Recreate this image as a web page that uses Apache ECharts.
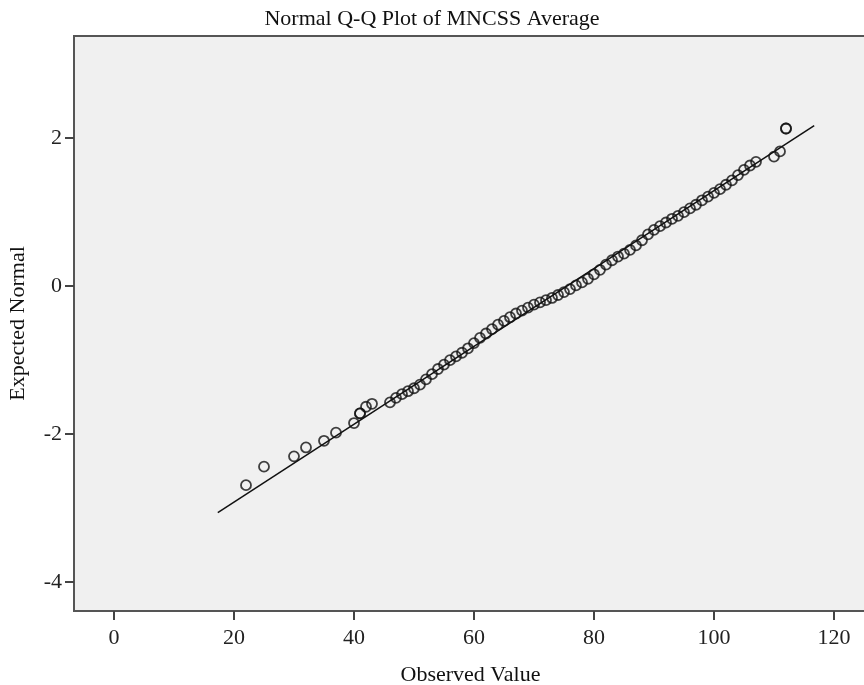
<!DOCTYPE html>
<html>
<head>
<meta charset="utf-8">
<title>Normal Q-Q Plot of MNCSS Average</title>
<script src="https://cdn.jsdelivr.net/npm/echarts@6/dist/echarts.min.js"></script>
<style>
  html, body { margin: 0; padding: 0; background: #fff; }
  #chart { width: 864px; height: 685px; }
</style>
</head>
<body>
<div id="chart"></div>
<script>
var observed = [22, 25, 30, 32, 35, 37, 40, 41, 41, 42, 43, 46, 47, 48, 49, 50,
  51, 52, 53, 54, 55, 56, 57, 58, 59, 60, 61, 62, 63, 64, 65, 66, 67, 68, 69, 70,
  71, 72, 73, 74, 75, 76, 77, 78, 79, 80, 81, 82, 83, 84, 85, 86, 87, 88, 89, 90,
  91, 92, 93, 94, 95, 96, 97, 98, 99, 100, 101, 102, 103, 104, 105, 106, 107,
  110, 111, 112, 112]
var expected = [-2.69, -2.44, -2.30, -2.18, -2.09, -1.98, -1.85, -1.72, -1.72, -1.63, -1.59, -1.57, -1.51, -1.46, -1.42, -1.38,
  -1.33, -1.26, -1.19, -1.12, -1.06, -1.00, -0.95, -0.90, -0.84, -0.77, -0.70, -0.64, -0.58, -0.52, -0.47, -0.42, -0.37, -0.33, -0.29, -0.25,
  -0.22, -0.19, -0.16, -0.12, -0.08, -0.04, 0.01, 0.05, 0.10, 0.16, 0.22, 0.29, 0.35, 0.40, 0.44, 0.49, 0.55, 0.62, 0.70, 0.76,
  0.81, 0.86, 0.91, 0.95, 1.00, 1.05, 1.10, 1.16, 1.21, 1.26, 1.31, 1.37, 1.43, 1.50, 1.57, 1.63, 1.68,
  1.75, 1.82, 2.13, 2.13]

// reference line end points
var lineX = [17.3, 116.7]
var lineY = [-3.06, 2.17]

var xTicks = [0, 20, 40, 60, 80, 100, 120]
var yTicks = [-4, -2, 0, 2]

var points = observed.map(function (v, i) { return [v, expected[i]] })
var linePts = lineX.map(function (v, i) { return [v, lineY[i]] })

var serif = '"Liberation Serif", "DejaVu Serif", serif'
var chart = echarts.init(document.getElementById('chart'))

chart.setOption({
  animation: false,
  backgroundColor: '#fff',
  title: {
    text: 'Normal Q-Q Plot of MNCSS Average',
    left: 'center',
    top: 3,
    textStyle: { fontFamily: serif, fontSize: 22, fontWeight: 'normal', color: '#111' }
  },
  grid: {
    left: 74,
    top: 36,
    right: -3,
    bottom: 74,
    outerBoundsMode: 'none',
    containLabel: false,
    show: true,
    backgroundColor: '#f0f0f0',
    borderColor: '#555',
    borderWidth: 2
  },
  xAxis: {
    type: 'value',
    min: -6.667,
    max: 125.5,
    name: 'Observed Value',
    nameLocation: 'middle',
    nameGap: 53,
    nameTextStyle: { fontFamily: serif, fontSize: 22, color: '#111' },
    axisLine: { show: false, onZero: false },
    splitLine: { show: false },
    axisTick: { show: true, length: 9, customValues: xTicks, lineStyle: { color: '#444', width: 2 } },
    axisLabel: { customValues: xTicks, margin: 16, fontFamily: serif, fontSize: 22, color: '#222' }
  },
  yAxis: {
    type: 'value',
    min: -4.39,
    max: 3.38,
    name: 'Expected Normal',
    nameLocation: 'middle',
    nameGap: 45,
    nameTextStyle: { fontFamily: serif, fontSize: 22, color: '#111' },
    axisLine: { show: false, onZero: false },
    splitLine: { show: false },
    axisTick: { show: true, length: 9, customValues: yTicks, lineStyle: { color: '#444', width: 2 } },
    axisLabel: { customValues: yTicks, margin: 12, fontFamily: serif, fontSize: 22, color: '#222' }
  },
  series: [
    {
      type: 'line',
      data: linePts,
      symbol: 'none',
      lineStyle: { color: '#111', width: 1.5 },
      z: 2
    },
    {
      type: 'scatter',
      data: points,
      symbol: 'circle',
      symbolSize: 10,
      itemStyle: { color: 'rgba(0,0,0,0)', borderColor: '#111', borderWidth: 1.8 },
      z: 3
    }
  ]
})
</script>
</body>
</html>
